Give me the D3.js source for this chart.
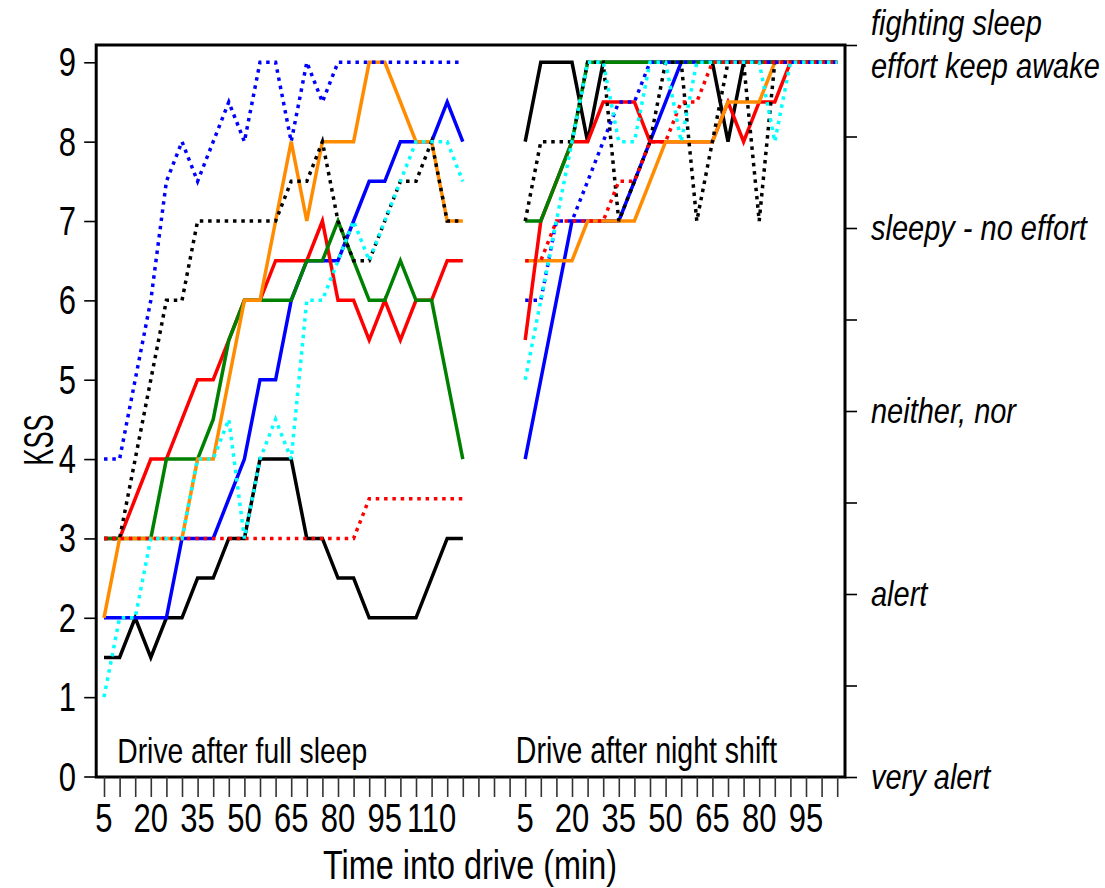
<!DOCTYPE html>
<html>
<head>
<meta charset="utf-8">
<script src="https://cdn.jsdelivr.net/npm/d3@7"></script>
<style>
  body { margin: 0; background: #fff; }
  text { font-family: "Liberation Sans", Arial, Helvetica, sans-serif; fill: #000; }
  .st { transform-box: fill-box; transform-origin: 50% 50%; }
</style>
</head>
<body>
<div id="chart"></div>
<script>
// time points (min) of the two drives
const leftTimes = [5,10,15,20,25,30,35,40,45,50,55,60,65,70,75,80,85,90,95,100,105,110,115,120];
const rightTimes = [5,10,15,20,25,30,35,40,45,50,55,60,65,70,75,80,85,90,95,100,105];
const gapSlots = 3;

// KSS right-hand labels
const kssLevels = [1,2,3,4,5,6,7,8,9];
const kssLabels = {1: ["very alert"], 3: ["alert"], 5: ["neither, nor"], 7: ["sleepy - no effort"], 9: ["fighting sleep", "effort keep awake"]};

// series values, full sleep drive (left) and night shift drive (right)
const blackSolidLeft  = [1.5,1.5,2,1.5,2,2,2.5,2.5,3,3,4,4,4,3,3,2.5,2.5,2,2,2,2,2.5,3,3];
const blackSolidRight = [8,9,9,9,8,9,9,9,9,9,9,9,9,8,9,9,9,9,9,9,9];
const blueSolidLeft   = [2,2,2,2,2,3,3,3,3.5,4,5,5,6,6.5,6.5,6.5,7,7.5,7.5,8,8,8,8.5,8];
const blueSolidRight  = [4,5,6,7,7,7,7,7.5,8,8.5,9,9,9,9,9,9,9,9,9,9,9];
const redSolidLeft    = [3,3,3.5,4,4,4.5,5,5,5.5,6,6,6.5,6.5,6.5,7,6,6,5.5,6,5.5,6,6,6.5,6.5];
const redSolidRight   = [5.5,7,7.5,8,8,8.5,8.5,8.5,8,8,8,8,8,8.5,8,8.5,8.5,9,9,9,9];
const greenLeft       = [3,3,3,3,4,4,4,4.5,5.5,6,6,6,6,6.5,6.5,7,6.5,6,6,6.5,6,6,5,4];
const greenRight      = [7,7,7.5,8,9,9,9,9,9,9,9,9,9,9,9,9,9,9,9,9,9];
const orangeLeft      = [2,3,3,3,3,3,4,4,5,6,6,7,8,7,8,8,8,9,9,8.5,8,8,7,7];
const orangeRight     = [6.5,6.5,6.5,6.5,7,7,7,7,7.5,8,8,8,8,8.5,8.5,8.5,9,9,9,9,9];
const blackDotLeft    = [3,3,4,5,6,6,7,7,7,7,7,7,7.5,7.5,8,7,6.5,6.5,7,7.5,7.5,8,7,7];
const blackDotRight   = [7,8,8,8,9,9,7,7.5,8,9,9,7,8,9,9,7,9,9,9,9,9];
const redDotLeft      = [3,3,3,3,3,3,3,3,3,3,3,3,3,3,3,3,3,3.5,3.5,3.5,3.5,3.5,3.5,3.5];
const redDotRight     = [6.5,6.5,7,7,7,7,7.5,7.5,8,8,8.5,8.5,9,9,9,9,9,9,9,9,9];
const blueDotLeft     = [4,4,5,6,7.5,8,7.5,8,8.5,8,9,9,8,9,8.5,9,9,9,9,9,9,9,9,9];
const blueDotRight    = [6,6,7,7,7.5,8,8.5,8.5,9,9,9,9,9,9,9,9,9,9,9,9,9];
const cyanLeft        = [1,2,2,3,3,3,4,4,4.5,3,4,4.5,4,6,6,6.5,7,6.5,7,7.5,8,8,8,7.5];
const cyanRight       = [5,6,7,8,9,9,8,8,9,9,8,9,9,9,9,9,8,9,9,9,9];

const series = [
  {color: "#000000", dotted: false, left: blackSolidLeft, right: blackSolidRight},
  {color: "#0000ff", dotted: false, left: blueSolidLeft,  right: blueSolidRight},
  {color: "#ff0000", dotted: false, left: redSolidLeft,   right: redSolidRight},
  {color: "#008000", dotted: false, left: greenLeft,      right: greenRight},
  {color: "#ff8c00", dotted: false, left: orangeLeft,     right: orangeRight},
  {color: "#000000", dotted: true,  left: blackDotLeft,   right: blackDotRight},
  {color: "#ff0000", dotted: true,  left: redDotLeft,     right: redDotRight},
  {color: "#0000ff", dotted: true,  left: blueDotLeft,    right: blueDotRight},
  {color: "#00ffff", dotted: true,  left: cyanLeft,       right: cyanRight}
];

const W = 1105, H = 888;
const rightStart = leftTimes.length + gapSlots;
const nSlots = rightStart + rightTimes.length;

const x = d3.scaleLinear().domain([0, nSlots - 1]).range([104, 837.2]);
const y = d3.scaleLinear().domain([0, 9]).range([776.5, 62.3]);
const yR = d3.scaleLinear().domain([1, 9]).range([777, 45]);

const svg = d3.select("#chart").append("svg")
  .attr("width", W)
  .attr("height", H);

function label(g, px, py, str, o) {
  const t = g.append("text")
    .attr("x", px)
    .attr("y", py)
    .attr("dominant-baseline", "central")
    .attr("text-anchor", o.anchor || "start")
    .style("font-size", o.size + "px")
    .text(str);
  if (o.italic) t.style("font-style", "italic");
  if (o.sy) t.attr("class", "st").style("transform", "scale(1," + o.sy + ")");
  return t;
}

// lines
const line = d3.line()
  .x(d => x(d.slot))
  .y(d => y(d.v));

const plot = svg.append("g");
series.forEach(s => {
  const parts = [
    s.left.map((v, i) => ({slot: i, v: v})),
    s.right.map((v, i) => ({slot: rightStart + i, v: v}))
  ];
  parts.forEach(p => {
    plot.append("path")
      .datum(p)
      .attr("d", line)
      .attr("fill", "none")
      .attr("stroke", s.color)
      .attr("stroke-width", 3.5)
      .attr("stroke-dasharray", s.dotted ? "3.5,4.8" : null)
      .attr("stroke-linejoin", "miter");
  });
});

// frame
svg.append("rect")
  .attr("x", x(-0.5))
  .attr("y", yR(9))
  .attr("width", x(nSlots - 0.5) - x(-0.5))
  .attr("height", yR(1) - yR(9))
  .attr("fill", "none")
  .attr("stroke", "#000")
  .attr("stroke-width", 3);

// bottom axis
const xAxis = d3.axisBottom(x)
  .tickValues(d3.range(nSlots))
  .tickSize(20)
  .tickSizeOuter(0)
  .tickFormat("");
const gx = svg.append("g")
  .attr("transform", "translate(0," + yR(1) + ")")
  .call(xAxis);
gx.select(".domain").remove();
gx.selectAll(".tick line").attr("stroke", "#333").attr("stroke-width", 1.6);

const xLabels = [];
leftTimes.forEach((t, i) => { if (i % 3 === 0) xLabels.push({slot: i, text: String(t)}); });
rightTimes.forEach((t, i) => { if (i % 3 === 0) xLabels.push({slot: rightStart + i, text: String(t)}); });
xLabels.forEach(d => label(svg, x(d.slot), 818, d.text, {size: 31, anchor: "middle", sy: 1.3}));

// left axis
const yAxis = d3.axisLeft(y)
  .tickValues(d3.range(0, 10))
  .tickSize(12)
  .tickSizeOuter(0)
  .tickFormat("");
const gy = svg.append("g")
  .attr("transform", "translate(" + x(-0.5) + ",0)")
  .call(yAxis);
gy.select(".domain").remove();
gy.selectAll(".tick line").attr("stroke", "#000").attr("stroke-width", 1.6);
d3.range(0, 10).forEach(v => label(svg, 76, y(v), String(v), {size: 31, anchor: "end", sy: 1.3}));

// right axis
const yAxisR = d3.axisRight(yR)
  .tickValues(kssLevels)
  .tickSize(12)
  .tickSizeOuter(0)
  .tickFormat("");
const gr = svg.append("g")
  .attr("transform", "translate(" + x(nSlots - 0.5) + ",0)")
  .call(yAxisR);
gr.select(".domain").remove();
gr.selectAll(".tick line").attr("stroke", "#000").attr("stroke-width", 1.6);
Object.keys(kssLabels).forEach(k => {
  const lines = kssLabels[k];
  lines.forEach((str, j) => {
    const off = lines.length === 1 ? 0 : (j === 0 ? -22 : 21);
    label(svg, 871, yR(+k) + off, str, {size: 29, italic: true, sy: 1.2});
  });
});

// panel captions
label(svg, x(0.85), y(0.33), "Drive after full sleep", {size: 28.3, sy: 1.27});
label(svg, x(26.4), y(0.33), "Drive after night shift", {size: 28.5, sy: 1.27});

// axis titles
label(svg, 470, 865, "Time into drive (min)", {size: 32.4, anchor: "middle", sy: 1.27});
svg.append("text")
  .attr("transform", "translate(38,440) rotate(-90) scale(0.8,1.35)")
  .attr("text-anchor", "middle")
  .attr("dominant-baseline", "central")
  .style("font-size", "32px")
  .text("KSS");
</script>
</body>
</html>
